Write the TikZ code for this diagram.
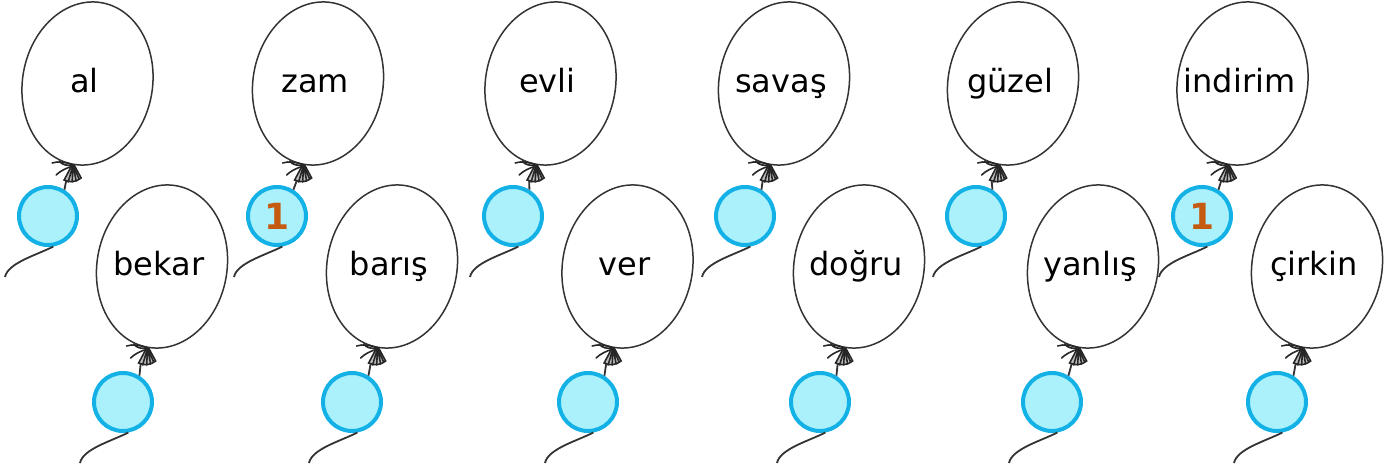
\documentclass[tikz,border=0pt]{standalone}
\usepackage{fontspec}
\setmainfont{DejaVu Sans}
\usetikzlibrary{shapes.geometric,calc}
\definecolor{cyanfill}{HTML}{AAF1FB}
\definecolor{cyanline}{HTML}{14B1E7}
\definecolor{numorange}{HTML}{C55A11}

\begin{document}
\begin{tikzpicture}[x=0.5pt,y=-0.5pt,
balloon/.style={draw=black!80,ellipse,minimum width=65pt,minimum height=82pt,inner sep=0pt,rotate=-10,line width=0.75pt},
word/.style={font=\fontsize{16}{18}\selectfont,anchor=base,inner sep=0pt,xshift=-1.5pt,yshift=-4.5pt},
dotcircle/.style={draw=cyanline,fill=cyanfill,circle,line width=2pt,minimum size=29pt,inner sep=0pt,text=numorange,font=\bfseries\fontsize{18}{20}\selectfont},
stringline/.style={draw=black!80,line width=0.9pt},
knotline/.style={draw=black!85,line width=0.8pt,line cap=round},
knot/.pic={
  \filldraw[knotline,fill=black!25] (-1,0) -- (-9,15) .. controls (-3,18) and (3,17) .. (8,13) -- (1,0);
  \draw[knotline] (0,0) -- (-5,17) (0,0) -- (-1,17) (0,0) -- (3,16) (0,0) -- (6,14);
  \draw[knotline] (0,0) .. controls (-7,-3) and (-15,-4) .. (-21,-2);
  \draw[knotline] (0,1) .. controls (-7,3) and (-13,6) .. (-17,10);
  \draw[knotline] (0,0) .. controls (-6,1) and (-11,0) .. (-14,-4);
  \coordinate (-base) at (-7,16);
}]
\useasboundingbox (0,0) rectangle (1392,470);

% top row
\node[balloon] (b1) at (87.5,83.5) {};
\node[balloon] (b3) at (318,83.5) {};
\node[balloon] (b5) at (550.5,83.5) {};
\node[balloon] (b7) at (784,83.5) {};
\node[balloon] (b9) at (1013,83.5) {};
\node[balloon] (b11) at (1242.5,83.5) {};
% bottom row
\node[balloon] (b2) at (162,266.5) {};
\node[balloon] (b4) at (392,266.5) {};
\node[balloon] (b6) at (627.5,266.5) {};
\node[balloon] (b8) at (859,266.5) {};
\node[balloon] (b10) at (1093,266.5) {};
\node[balloon] (b12) at (1317,266.5) {};

\node[word] (w1) at (b1.center) {al};
\node[word] (w2) at (b2.center) {bekar};
\node[word] (w3) at (b3.center) {zam};
\node[word] (w4) at (b4.center) {barış};
\node[word] (w5) at (b5.center) {evli};
\node[word] (w6) at (b6.center) {ver};
\node[word] (w7) at (b7.center) {savaş};
\node[word] (w8) at (b8.center) {doğru};
\node[word] (w9) at (b9.center) {güzel};
\node[word] (w10) at (b10.center) {yanlış};
\node[word] (w11) at (b11.center) {indirim};
\node[word] (w12) at (b12.center) {çirkin};

\node[dotcircle] (c1) at (48,216) {};
\node[dotcircle] (c3) at (277,216) {1};
\node[dotcircle] (c5) at (513,216) {};
\node[dotcircle] (c7) at (745,216) {};
\node[dotcircle] (c9) at (976,216) {};
\node[dotcircle] (c11) at (1202,216) {1};
\node[dotcircle] (c2) at (123,402) {};
\node[dotcircle] (c4) at (352,402) {};
\node[dotcircle] (c6) at (588,402) {};
\node[dotcircle] (c8) at (820,402) {};
\node[dotcircle] (c10) at (1052,402) {};
\node[dotcircle] (c12) at (1277,402) {};

% knots and strings
\foreach \i in {1,...,12}{
  \pic (k\i) at (b\i.south) {knot};
  \coordinate (e\i) at ($(c\i)+(-43,61)$);
  \draw[stringline] (k\i-base) -- (c\i.58);
  \draw[stringline] (c\i.-80) .. controls +(-18,9) and +(3,-14) .. (e\i);
}

\end{tikzpicture}
\end{document}
